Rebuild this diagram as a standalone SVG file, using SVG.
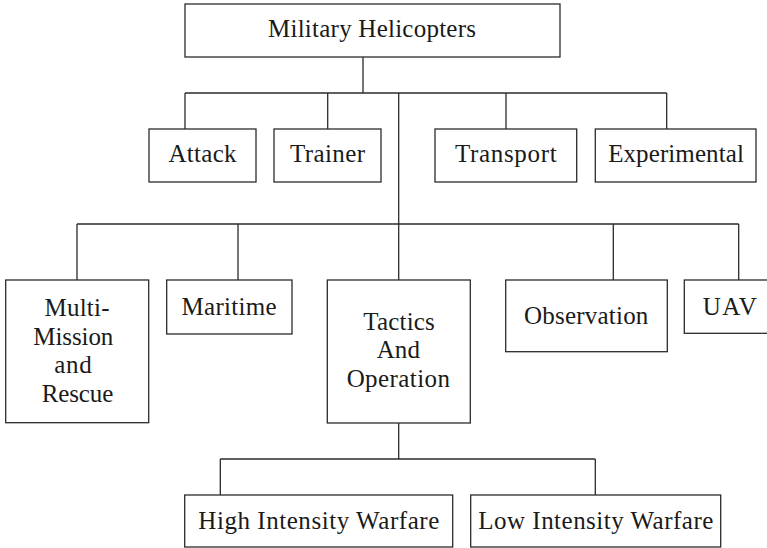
<svg xmlns="http://www.w3.org/2000/svg" width="767" height="548" viewBox="0 0 767 548">
  <style>
    .box { fill: #ffffff; stroke: #2b2b2b; stroke-width: 1.3; }
    .wire { fill: none; stroke: #2b2b2b; stroke-width: 1.3; }
    .lbl { font-family: "Liberation Serif", "Times New Roman", serif; font-size: 25px; fill: #1a1a1a; text-anchor: middle; }
  </style>
  <rect width="767" height="548" fill="#ffffff"/>

  <!-- connectors -->
  <g id="connectors" class="wire">
    <path d="M363 57 V93 M185 93 H666.7 M185 93 V129 M327.7 93 V129 M506 93 V129 M666.7 93 V129"/>
    <path d="M398.7 93 V280 M77 224 H738.7 M77 224 V280 M238 224 V280 M613.3 224 V280 M738.7 224 V280"/>
    <path d="M398.7 423 V459 M220.3 459 H595.3 M220.3 459 V495 M595.3 459 V495"/>
  </g>

  <g id="military-helicopters">
    <rect class="box" x="185" y="4" width="375" height="53"/>
    <text class="lbl" x="372" y="37" textLength="208" lengthAdjust="spacing">Military Helicopters</text>
  </g>
  <g id="attack">
    <rect class="box" x="149" y="129" width="107" height="53"/>
    <text class="lbl" x="202.5" y="161.7" textLength="68" lengthAdjust="spacing">Attack</text>
  </g>
  <g id="trainer">
    <rect class="box" x="274" y="129" width="107" height="53"/>
    <text class="lbl" x="327.5" y="161.7" textLength="75" lengthAdjust="spacing">Trainer</text>
  </g>
  <g id="transport">
    <rect class="box" x="435" y="129" width="141.7" height="53"/>
    <text class="lbl" x="505.8" y="161.7" textLength="101.7" lengthAdjust="spacing">Transport</text>
  </g>
  <g id="experimental">
    <rect class="box" x="595.3" y="129" width="160.7" height="53"/>
    <text class="lbl" x="676" y="161.7" textLength="135.7" lengthAdjust="spacing">Experimental</text>
  </g>

  <g id="multi-mission">
    <rect class="box" x="5.7" y="280" width="143" height="142.7"/>
    <text class="lbl" x="77" y="316" textLength="65" lengthAdjust="spacing">Multi-</text>
    <text class="lbl" x="73.3" y="345" textLength="80" lengthAdjust="spacing">Mission</text>
    <text class="lbl" x="73" y="373" textLength="37.3" lengthAdjust="spacing">and</text>
    <text class="lbl" x="77.5" y="401.7" textLength="71.7" lengthAdjust="spacing">Rescue</text>
  </g>
  <g id="maritime">
    <rect class="box" x="166.7" y="280" width="125.3" height="54"/>
    <text class="lbl" x="229" y="315" textLength="95" lengthAdjust="spacing">Maritime</text>
  </g>
  <g id="tactics">
    <rect class="box" x="327.3" y="280" width="143" height="143"/>
    <text class="lbl" x="399" y="330" textLength="71.7" lengthAdjust="spacing">Tactics</text>
    <text class="lbl" x="398.3" y="358" textLength="43.3" lengthAdjust="spacing">And</text>
    <text class="lbl" x="398.3" y="387" textLength="103.3" lengthAdjust="spacing">Operation</text>
  </g>
  <g id="observation">
    <rect class="box" x="505.7" y="280" width="161.6" height="71.7"/>
    <text class="lbl" x="586.2" y="324" textLength="124.3" lengthAdjust="spacing">Observation</text>
  </g>
  <g id="uav">
    <rect class="box" x="684.3" y="280" width="92" height="53.3"/>
    <text class="lbl" x="729.7" y="315" textLength="54" lengthAdjust="spacing">UAV</text>
  </g>

  <g id="high-intensity">
    <rect class="box" x="184.7" y="495" width="268" height="52"/>
    <text class="lbl" x="318.8" y="529" textLength="241" lengthAdjust="spacing">High Intensity Warfare</text>
  </g>
  <g id="low-intensity">
    <rect class="box" x="470.7" y="495" width="250" height="52"/>
    <text class="lbl" x="595.8" y="528.5" textLength="235" lengthAdjust="spacing">Low Intensity Warfare</text>
  </g>
</svg>
